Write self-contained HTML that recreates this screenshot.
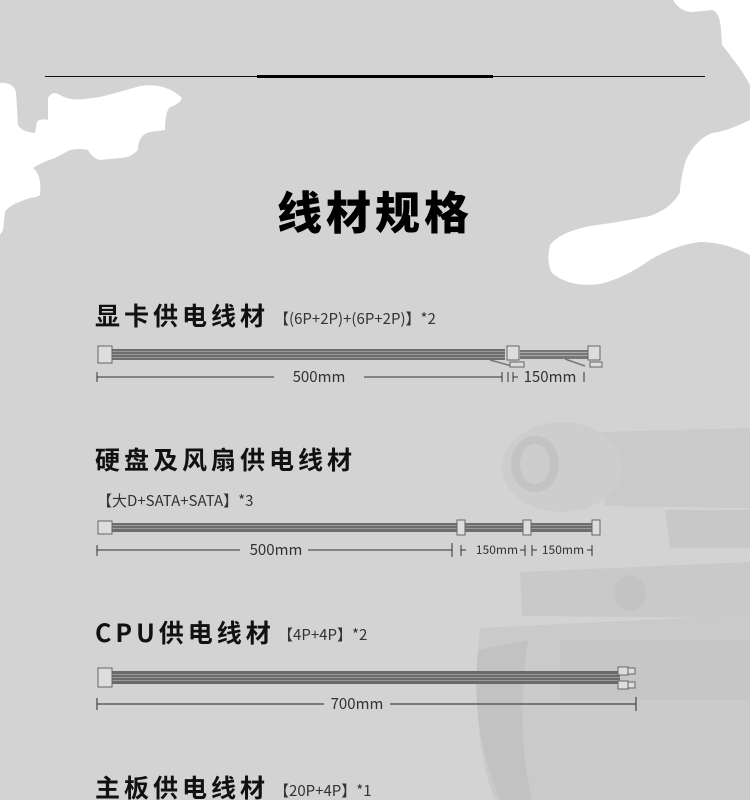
<!DOCTYPE html>
<html><head><meta charset="utf-8"><style>
html,body{margin:0;padding:0;background:#d3d3d3;}
svg{display:block}
text{font-family:"Liberation Sans","Noto Sans CJK SC",sans-serif;}
.h{font-family:"Noto Sans CJK SC","WenQuanYi Zen Hei",sans-serif;font-weight:700;font-size:25px;letter-spacing:4px;fill:#111}
.s{font-family:"Noto Sans CJK SC",sans-serif;font-size:15px;fill:#333}
.d{font-family:"Noto Sans CJK SC",sans-serif;font-size:15px;fill:#333}
.ds{font-family:"Noto Sans CJK SC",sans-serif;font-size:12px;fill:#333}
</style></head><body>
<svg width="750" height="800" viewBox="0 0 750 800" xmlns="http://www.w3.org/2000/svg">
<defs>
<radialGradient id="sm" cx="0.5" cy="0" r="0.6"><stop offset="0" stop-color="#9a9a9a"/><stop offset="1" stop-color="#d3d3d3" stop-opacity="0"/></radialGradient>
</defs>
<rect width="750" height="800" fill="#d3d3d3"/>
<ellipse cx="390" cy="0" rx="45" ry="14" fill="url(#sm)"/>
<!-- white blobs -->
<path fill="#fff" d="M0,83 Q13,82 16,92 L18,125 Q22,132 35,133 L37,122 Q40,118 48,120 L48,98 Q52,90 60,95 Q70,101 85,99 L100,97 Q120,92 140,86 Q165,82 182,98 Q180,104 170,107 Q165,112 165,130 L150,132 Q138,135 138,150 Q130,158 120,158 L100,160 Q92,158 88,150 Q80,148 70,150 L55,158 Q40,163 33,168 Q42,175 40,195 Q38,197 30,198 Q8,205 5,212 L3,230 L0,235 Z"/>
<path fill="#fff" d="M673,0 Q680,12 693,12 L712,10 Q720,12 721,30 L722,45 Q728,52 732,58 Q742,70 750,85 L750,0 Z"/>
<path fill="#fff" d="M750,120 Q725,132 712,133 Q695,140 686,160 Q680,180 680,192 Q672,208 650,216 Q620,222 590,226 Q560,232 550,245 Q546,262 552,273 Q570,288 600,284 Q625,278 650,260 Q675,245 700,242 Q725,242 750,255 Z"/>
<!-- tank (subtle) -->
<g>
 <path d="M600,432 L750,428 L750,508 L605,506 Z" fill="#cacaca"/>
 <ellipse cx="562" cy="467" rx="60" ry="45" fill="#cdcdcd"/>
 <ellipse cx="535" cy="464" rx="24" ry="28" fill="#c3c3c3"/>
 <ellipse cx="535" cy="464" rx="15" ry="20" fill="#cdcdcd"/>
 <path d="M665,510 L750,510 L750,548 L670,548 Z" fill="#c8c8c8"/>
 <path d="M520,572 L750,562 L750,618 L522,616 Z" fill="#c9c9c9"/>
 <ellipse cx="630" cy="593" rx="16" ry="18" fill="#c3c3c3"/>
 <path d="M480,628 L750,615 L750,800 L495,800 Q470,740 480,628 Z" fill="#cacaca"/>
 <path d="M478,650 Q470,730 500,800 L532,800 Q515,730 528,640 Z" fill="#c2c2c2"/>
 <rect x="560" y="640" width="190" height="60" fill="#c6c6c6"/>
 <rect x="560" y="700" width="190" height="40" fill="#cbcbcb"/>
</g>
<!-- top lines -->
<rect x="45" y="76" width="660" height="1" fill="#111"/>
<rect x="257" y="75" width="236" height="3" fill="#000"/>
<text x="375" y="229" text-anchor="middle" style="font-family:'Noto Sans CJK SC',sans-serif;font-weight:900;font-size:45px;letter-spacing:4px;fill:#000">线材规格</text>

<!-- section 1 -->
<text x="95" y="325" class="h">显卡供电线材</text>
<text x="274" y="324" class="s">【(6P+2P)+(6P+2P)】*2</text>
<rect x="110" y="349" width="395" height="11" fill="#6d6d6d"/>
<rect x="110" y="351" width="395" height="1" fill="#9a9a9a"/><rect x="110" y="354" width="395" height="1" fill="#9a9a9a"/><rect x="110" y="357" width="395" height="1" fill="#9a9a9a"/>
<path d="M490,360 L512,366" stroke="#777" stroke-width="1.5"/>
<rect x="520" y="350" width="70" height="9" fill="#777"/>
<rect x="520" y="352" width="70" height="1" fill="#aaa"/><rect x="520" y="355" width="70" height="1" fill="#aaa"/>
<path d="M565,359 L585,366" stroke="#777" stroke-width="1.5"/>
<rect x="98" y="346" width="14" height="17" fill="#ddd" stroke="#666"/>
<rect x="507" y="346" width="12" height="14" fill="#ddd" stroke="#666"/>
<rect x="510" y="362" width="14" height="5" fill="#ddd" stroke="#666"/>
<rect x="588" y="346" width="12" height="14" fill="#ddd" stroke="#666"/>
<rect x="590" y="362" width="12" height="5" fill="#ddd" stroke="#666"/>
<g stroke="#333" stroke-width="1">
 <path d="M97,377 H274 M364,377 H502 M97,372 V382 M502,372 V382 M508,372 V382 M513,372 V382 M513,377 H518 M584,372 V382"/>
</g>
<text x="319" y="382" text-anchor="middle" class="d">500mm</text>
<text x="550" y="382" text-anchor="middle" class="d">150mm</text>

<!-- section 2 -->
<text x="95" y="469" class="h">硬盘及风扇供电线材</text>
<text x="97" y="506" class="s">【大D+SATA+SATA】*3</text>
<rect x="110" y="523" width="487" height="9" fill="#6d6d6d"/>
<rect x="110" y="525" width="487" height="1" fill="#999"/><rect x="110" y="528" width="487" height="1" fill="#999"/>
<rect x="98" y="521" width="14" height="13" fill="#ddd" stroke="#666"/>
<rect x="457" y="520" width="8" height="15" fill="#ddd" stroke="#666"/>
<rect x="523" y="520" width="8" height="15" fill="#ddd" stroke="#666"/>
<rect x="592" y="520" width="8" height="15" fill="#ddd" stroke="#666"/>
<g stroke="#333" stroke-width="1">
 <path d="M97,550 H240 M308,550 H452 M97,545 V556 M452,543 V557 M461,545 V556 M461,550 H466 M520,550 H525 M525,545 V556 M532,545 V556 M532,550 H537 M587,550 H592 M592,545 V556"/>
</g>
<text x="276" y="555" text-anchor="middle" class="d">500mm</text>
<text x="497" y="554" text-anchor="middle" class="ds">150mm</text>
<text x="563" y="554" text-anchor="middle" class="ds">150mm</text>

<!-- section 3 -->
<text x="95" y="642" class="h">CPU供电线材</text>
<text x="278" y="640" class="s">【4P+4P】*2</text>
<rect x="110" y="671" width="510" height="13" fill="#6a6a6a"/>
<rect x="110" y="674" width="510" height="1" fill="#999"/><rect x="110" y="677" width="510" height="1" fill="#999"/><rect x="110" y="680" width="510" height="1" fill="#999"/>
<rect x="98" y="668" width="14" height="19" fill="#ddd" stroke="#666"/>
<rect x="618" y="667" width="10" height="8" fill="#ddd" stroke="#666"/>
<rect x="618" y="681" width="10" height="8" fill="#ddd" stroke="#666"/>
<rect x="628" y="668" width="7" height="6" fill="#ddd" stroke="#666"/>
<rect x="628" y="682" width="7" height="6" fill="#ddd" stroke="#666"/>
<g stroke="#444" stroke-width="1.2">
 <path d="M97,704 H324 M390,704 H636 M97,698 V710 M636,697 V711"/>
</g>
<text x="357" y="709" text-anchor="middle" class="d">700mm</text>

<!-- section 4 -->
<text x="95" y="797" class="h">主板供电线材</text>
<text x="274" y="796" class="s">【20P+4P】*1</text>
</svg>
</body></html>
